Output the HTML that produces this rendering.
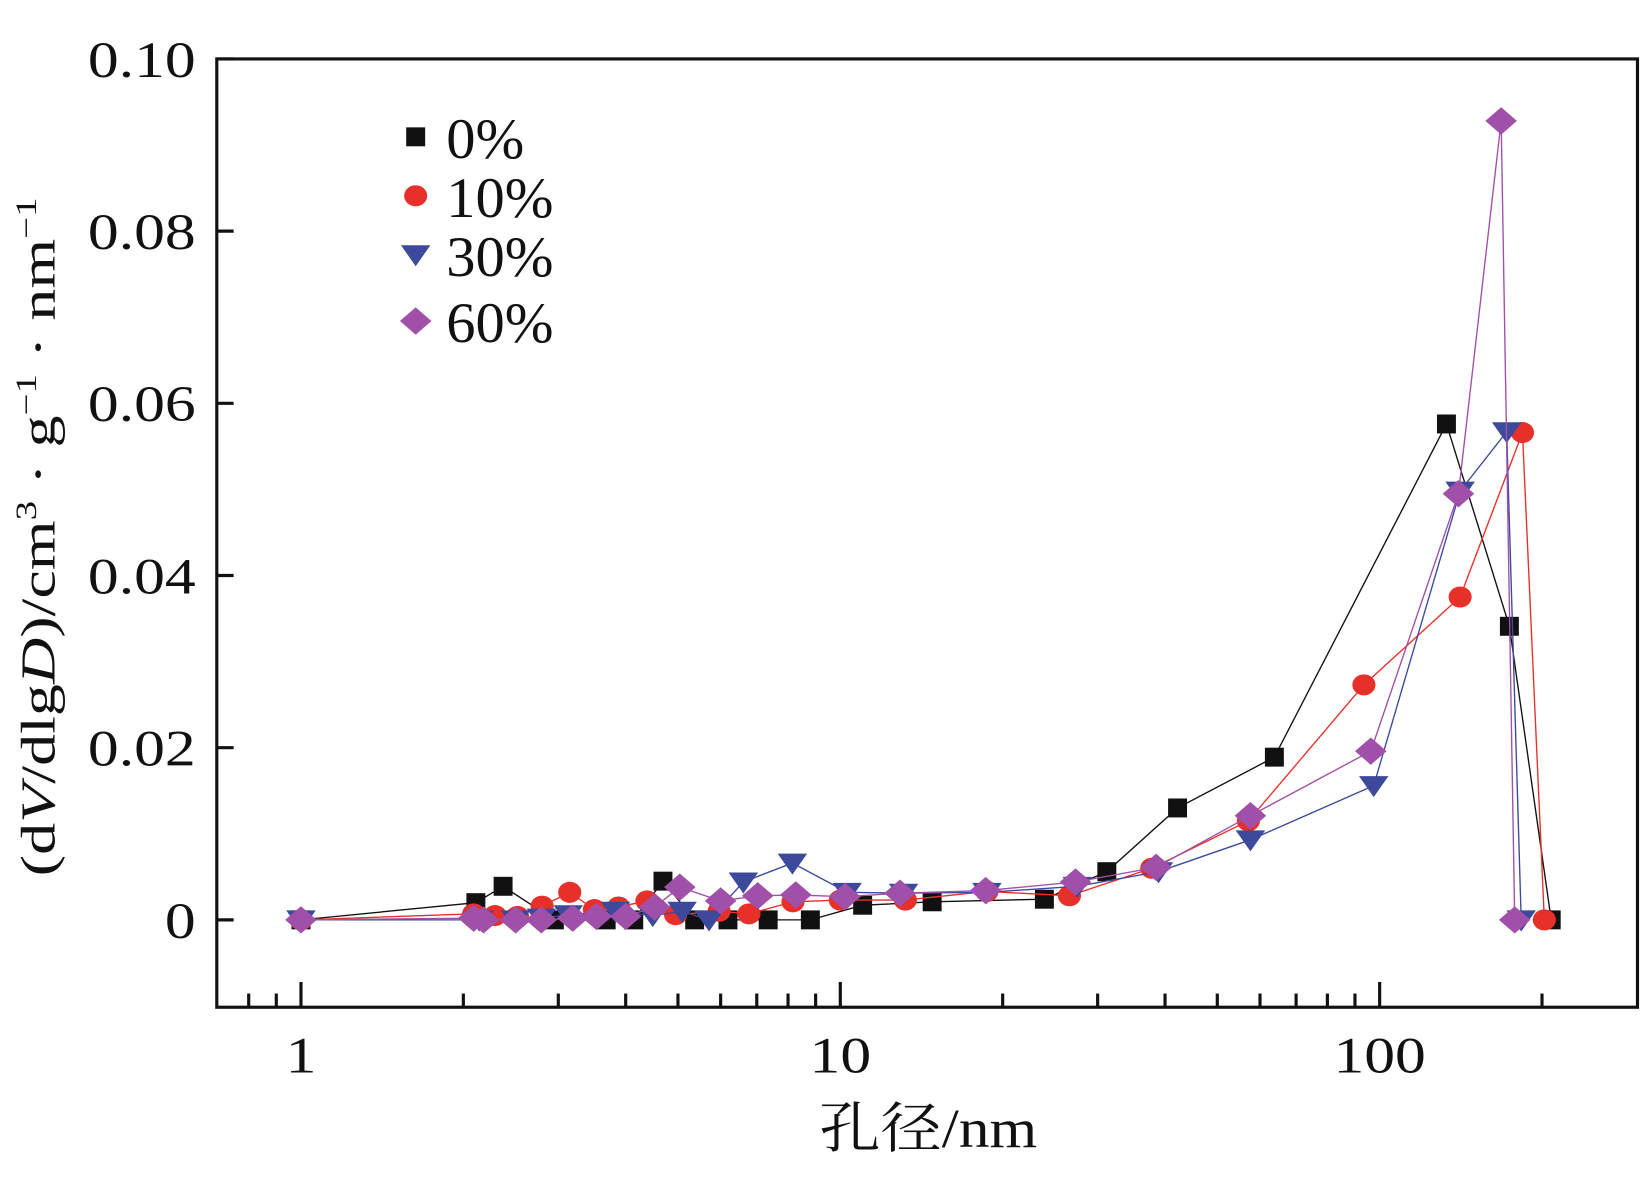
<!DOCTYPE html>
<html><head><meta charset="utf-8"><style>
html,body{margin:0;padding:0;background:#fff;}
svg{display:block;font-family:"Liberation Serif","Noto Serif CJK SC","Noto Sans CJK SC",serif;}
</style></head><body>
<svg id="chart" width="1648" height="1183" viewBox="0 0 1566 1124" preserveAspectRatio="none" xmlns="http://www.w3.org/2000/svg">
<rect x="0" y="0" width="1566" height="1124" fill="#fff"/>
<g id="marks"></g>
<g id="axes"></g>
</svg>
<script>
const seriesNames=["0%","10%","30%","60%"];
const colors=["#111111","#e8302a","#3d4a9c","#a050a8"];
const shapes=["square","circle","tri","diamond"];
const x0=[1,2.11,2.37,2.95,3.68,4.14,4.69,5.37,6.19,7.35,8.8,11.0,14.8,23.9,31.2,42.2,63.8,133,174,208];
const y0=[0,0.0020,0.0039,0,0,0,0.0045,0,0,0,0,0.0017,0.0021,0.0024,0.0056,0.0130,0.0189,0.0576,0.0341,0];
const x1=[1,2.09,2.29,2.52,2.80,3.15,3.50,3.88,4.38,4.95,5.96,6.77,8.17,10.0,13.2,18.7,26.6,37.8,57.1,93.5,141,184,202];
const y1=[0,0.0007,0.0005,0.0004,0.0016,0.0032,0.0012,0.0015,0.0022,0.0006,0.0010,0.0007,0.0021,0.0023,0.0023,0.0033,0.0028,0.0060,0.0115,0.0273,0.0375,0.0566,0];
const x2=[1,2.14,2.50,2.79,3.13,3.83,4.49,5.09,5.71,6.61,8.15,10.3,13.1,18.7,27.5,38.9,57.6,97.5,141,172,183];
const y2=[0,0,0,0.0002,0.0006,0.0010,0.0005,0.0010,0,0.0044,0.0066,0.0032,0.0031,0.0032,0.0039,0.0056,0.0093,0.0156,0.0498,0.0567,0];
const x3=[1,2.09,2.18,2.50,2.79,3.19,3.53,4.00,4.53,5.04,6.00,7.03,8.27,10.2,12.9,18.6,27.3,38.5,57.6,96.3,140,168,178];
const y3=[0,0.0002,0,0,0,0.0002,0.0004,0.0004,0.0015,0.0038,0.0022,0.0028,0.0029,0.0027,0.0031,0.0034,0.0044,0.0061,0.0121,0.0196,0.0495,0.0928,0];
const xsAll=[x0,x1,x2,x3], ysAll=[y0,y1,y2,y3];
const yTicks=[0,0.02,0.04,0.06,0.08,0.10];
const yTickLabels=["0","0.02","0.04","0.06","0.08","0.10"];
const xTicks=[1,10,100];
const xTickLabels=["1","10","100"];
const xMinor=[0.8,0.9,2,3,4,5,6,7,8,9,20,30,40,50,60,70,80,90,200];

const L=206,R=1556,T=56,B=957;
const xs=v=>286+Math.log10(v)*512.5;
const ys=v=>874-v*8180;
const NS="http://www.w3.org/2000/svg";
const marks=document.getElementById('marks'), axes=document.getElementById('axes');
function mk(tag,attrs,parent){const e=document.createElementNS(NS,tag);for(const k in attrs)e.setAttribute(k,attrs[k]);parent.appendChild(e);return e;}
function marker(shape,cx,cy,col,parent){
  let e;
  if(shape==="square") e=mk('rect',{x:cx-9,y:cy-9,width:18,height:18,fill:col},parent);
  else if(shape==="circle") e=mk('ellipse',{cx:cx,cy:cy,rx:11,ry:10,fill:col},parent);
  else if(shape==="tri") e=mk('polygon',{points:`${cx-14},${cy-9} ${cx+14},${cy-9} ${cx},${cy+11}`,fill:col},parent);
  else e=mk('polygon',{points:`${cx},${cy-13} ${cx+15},${cy} ${cx},${cy+13} ${cx-15},${cy}`,fill:col},parent);
  return e;
}
for(let s=0;s<4;s++){
  const g=mk('g',{},marks);
  
  
  const pts=xsAll[s].map((v,i)=>xs(v)+','+ys(ysAll[s][i])).join(' ');
  const pl=mk('polyline',{points:pts,fill:'none',stroke:colors[s],'stroke-width':1.3},g);
  
  
  xsAll[s].forEach((v,i)=>{
    const m=marker(shapes[s],xs(v),ys(ysAll[s][i]),colors[s],g);
    
    
  });
}
const fr=mk('rect',{x:L,y:T,width:R-L,height:B-T,fill:'none',stroke:'#111','stroke-width':3},axes);


function stretchText(txt,x,y,size,anchor,parent,name,sx){
  const t=mk('text',{transform:`translate(${x},${y}) scale(${sx||1.3},1)`,'font-size':size,'text-anchor':anchor,fill:'#111'},parent);
  t.textContent=txt;
  
  
  return t;
}
yTicks.forEach((v,i)=>{
  const y=ys(v);
  const tk=mk('line',{x1:L,x2:L+16,y1:y,y2:y,stroke:'#111','stroke-width':3},axes);
  
  
  stretchText(yTickLabels[i],186,y+17,48,'end',axes,'y-tick-label',1.22);
});
xTicks.forEach((v,i)=>{
  const x=xs(v);
  const tk=mk('line',{x1:x,x2:x,y1:B,y2:B-24,stroke:'#111','stroke-width':3},axes);
  
  
  stretchText(xTickLabels[i],x,1019,48,'middle',axes,'x-tick-label',1.22);
});
xMinor.forEach(v=>{
  const x=xs(v);
  const tk=mk('line',{x1:x,x2:x,y1:B,y2:B-13,stroke:'#111','stroke-width':3},axes);
  
  
});
stretchText('孔径/nm',882,1090,52,'middle',axes,'x-axis-title',1.12);
const yt=mk('text',{transform:'translate(52,510) rotate(-90)','font-size':46,'text-anchor':'middle',fill:'#111',textLength:645,lengthAdjust:'spacingAndGlyphs'},axes);


yt.innerHTML='(d<tspan font-style="italic">V</tspan>/dlg<tspan font-style="italic">D</tspan>)/cm<tspan font-size="28" dy="-18">3</tspan><tspan dy="18"> · g</tspan><tspan font-size="28" dy="-18">−1</tspan><tspan dy="18"> · nm</tspan><tspan font-size="28" dy="-18">−1</tspan>';
const legY=[130,186,242,305];
const lg=mk('g',{},axes);


for(let s=0;s<4;s++){
  const m=marker(shapes[s],395,legY[s],colors[s],lg);
  
  
  stretchText(seriesNames[s],424,legY[s]+20,54,'start',lg,'legend-entry',1.03);
}
</script>
</body></html>
